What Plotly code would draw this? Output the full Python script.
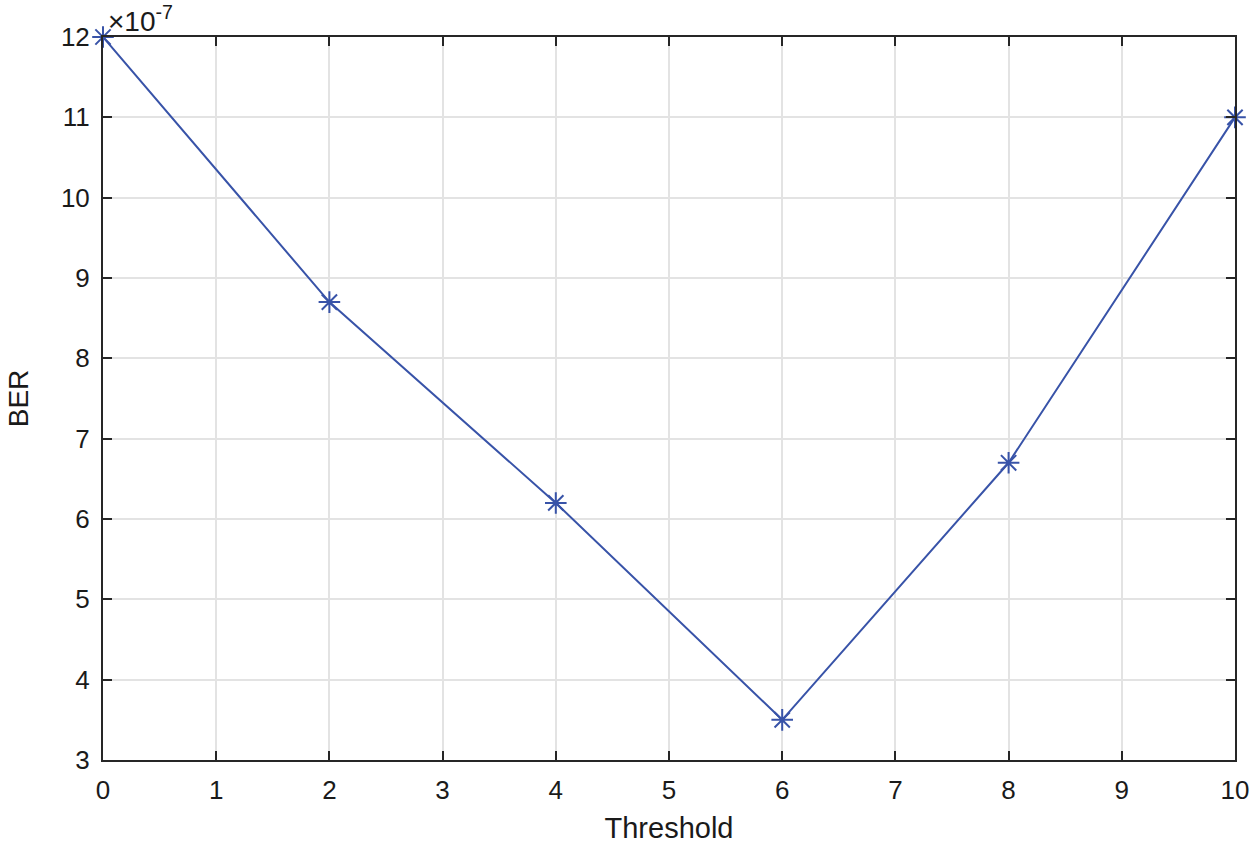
import plotly.graph_objects as go

threshold = [0, 2, 4, 6, 8, 10]
ber = [12.0e-7, 8.7e-7, 6.2e-7, 3.5e-7, 6.7e-7, 11.0e-7]
scale = 1e7

x_ticks = list(range(0, 11))
y_ticks = list(range(3, 13))

line_color = "#3853a8"
axis_color = "#262626"
text_color = "#1a1a1a"
font = "Liberation Sans, Arial, Helvetica, sans-serif"

fig = go.Figure()
fig.add_trace(go.Scatter(
    x=threshold, y=[b * scale for b in ber],
    mode="lines+markers",
    line=dict(color=line_color, width=2),
    marker=dict(symbol="asterisk-open", size=18, color=line_color,
                line=dict(color=line_color, width=2)),
    cliponaxis=False, showlegend=False))

axis_common = dict(
    showline=True, linecolor=axis_color, linewidth=2, mirror="ticks",
    ticks="inside", ticklen=9, tickwidth=2, tickcolor=axis_color,
    showgrid=True, gridcolor="#e3e3e3", gridwidth=2, zeroline=False,
    tickfont=dict(family=font, size=26, color=text_color),
)

fig.update_xaxes(range=[0, 10], tickvals=x_ticks, ticklabelstandoff=6,
                 title=dict(text="Threshold", font=dict(family=font, size=29, color=text_color),
                            standoff=13),
                 **axis_common)
fig.update_yaxes(range=[3, 12], tickvals=y_ticks, ticklabelstandoff=6,
                 title=dict(text="BER", font=dict(family=font, size=28, color=text_color),
                            standoff=24),
                 **axis_common)

fig.add_annotation(text="×10<sup>-7</sup>", xref="paper", yref="paper",
                   x=0, y=1, xanchor="left", yanchor="bottom", xshift=3, yshift=-2,
                   showarrow=False, font=dict(family=font, size=28, color=text_color))

fig.update_layout(width=1255, height=844,
                  margin=dict(l=103, r=20, t=37, b=84, autoexpand=False),
                  plot_bgcolor="white", paper_bgcolor="white")

fig.write_html("out.html", config={"displayModeBar": False},
               post_script="document.body.style.margin='0';")
